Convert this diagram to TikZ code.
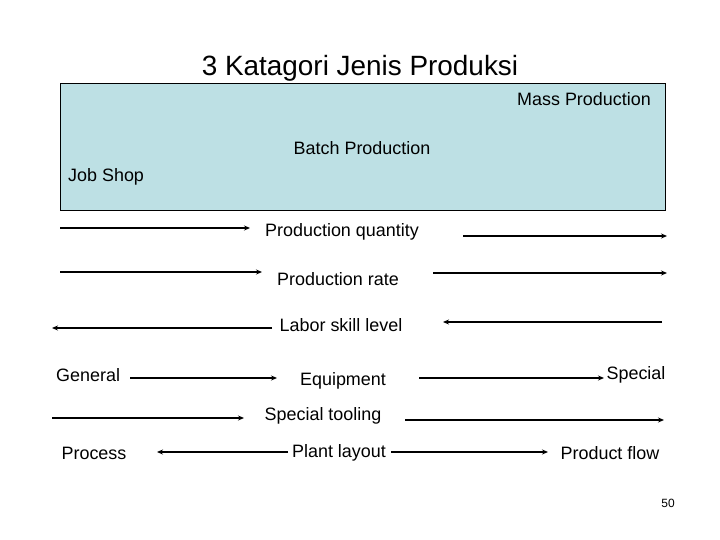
\documentclass[tikz,border=0pt]{standalone}
\usepackage{fontspec}
\setmainfont{Liberation Sans}
\usetikzlibrary{arrows.meta}
\definecolor{boxblue}{HTML}{BDE0E4}
\definecolor{inkblack}{HTML}{000000}

\tikzset{
  lbl/.style={text=inkblack, font=\fontsize{18}{21}\selectfont, inner sep=0pt},
  flow/.style={->, inkblack, line width=1.4pt}
}

\begin{document}
\begin{tikzpicture}[x=1bp, y=-1bp, >={Stealth[length=6bp, width=5bp]}]

% Page
\useasboundingbox (0,0) rectangle (720,540);

% Title
\node[text=inkblack, font=\fontsize{28}{32}\selectfont, inner sep=0pt] (title) at (360,68) {3 Katagori Jenis Produksi};

% Category box
\node[draw=inkblack, fill=boxblue, line width=0.6pt, minimum width=605bp, minimum height=127bp,
  inner sep=0pt, anchor=north west] (catbox) at (60,83) {};
\node[lbl] (mass) at (584,99) {Mass Production};
\node[lbl] (batch) at (362,148) {Batch Production};
\node[lbl, anchor=west] (jobshop) at (68,177) {Job Shop};

% Row labels
\node[lbl] (qty) at (342,232) {Production quantity};
\node[lbl] (rate) at (338,279) {Production rate};
\node[lbl] (skill) at (341,325) {Labor skill level};
\node[lbl, anchor=west] (general) at (56,375) {General};
\node[lbl] (equip) at (343,381) {Equipment};
\node[lbl] (special) at (636,375) {Special};
\node[lbl] (tooling) at (323,416) {Special tooling};
\node[lbl] (process) at (94,453) {Process};
\node[lbl] (layout) at (339,453) {Plant layout};
\node[lbl] (prodflow) at (610,453) {Product flow};

% Arrow ends
\coordinate (qtyA) at (60,228);   \coordinate (qtyB) at (250,228);
\coordinate (qtyC) at (463,236);  \coordinate (qtyD) at (667,236);
\coordinate (rateA) at (60,272);  \coordinate (rateB) at (262,272);
\coordinate (rateC) at (433,273); \coordinate (rateD) at (667,273);
\coordinate (skillA) at (272,328); \coordinate (skillB) at (52,328);
\coordinate (skillC) at (662,322); \coordinate (skillD) at (443,322);
\coordinate (eqA) at (130,378);   \coordinate (eqB) at (277,378);
\coordinate (eqC) at (419,378);   \coordinate (eqD) at (604,378);
\coordinate (toolA) at (52,418);  \coordinate (toolB) at (244,418);
\coordinate (toolC) at (405,420); \coordinate (toolD) at (664,420);
\coordinate (layA) at (288,452);  \coordinate (layB) at (157,452);
\coordinate (layC) at (391,452);  \coordinate (layD) at (548,452);

% Arrows
\foreach \a/\b in {qtyA/qtyB, qtyC/qtyD, rateA/rateB, rateC/rateD,
  skillA/skillB, skillC/skillD, eqA/eqB, eqC/eqD,
  toolA/toolB, toolC/toolD, layA/layB, layC/layD} {
  \draw[flow] (\a) -- (\b);
}

% Page number
\node[text=inkblack, font=\fontsize{12}{14}\selectfont, inner sep=0pt] (pagenum) at (668,503) {50};

\end{tikzpicture}
\end{document}
